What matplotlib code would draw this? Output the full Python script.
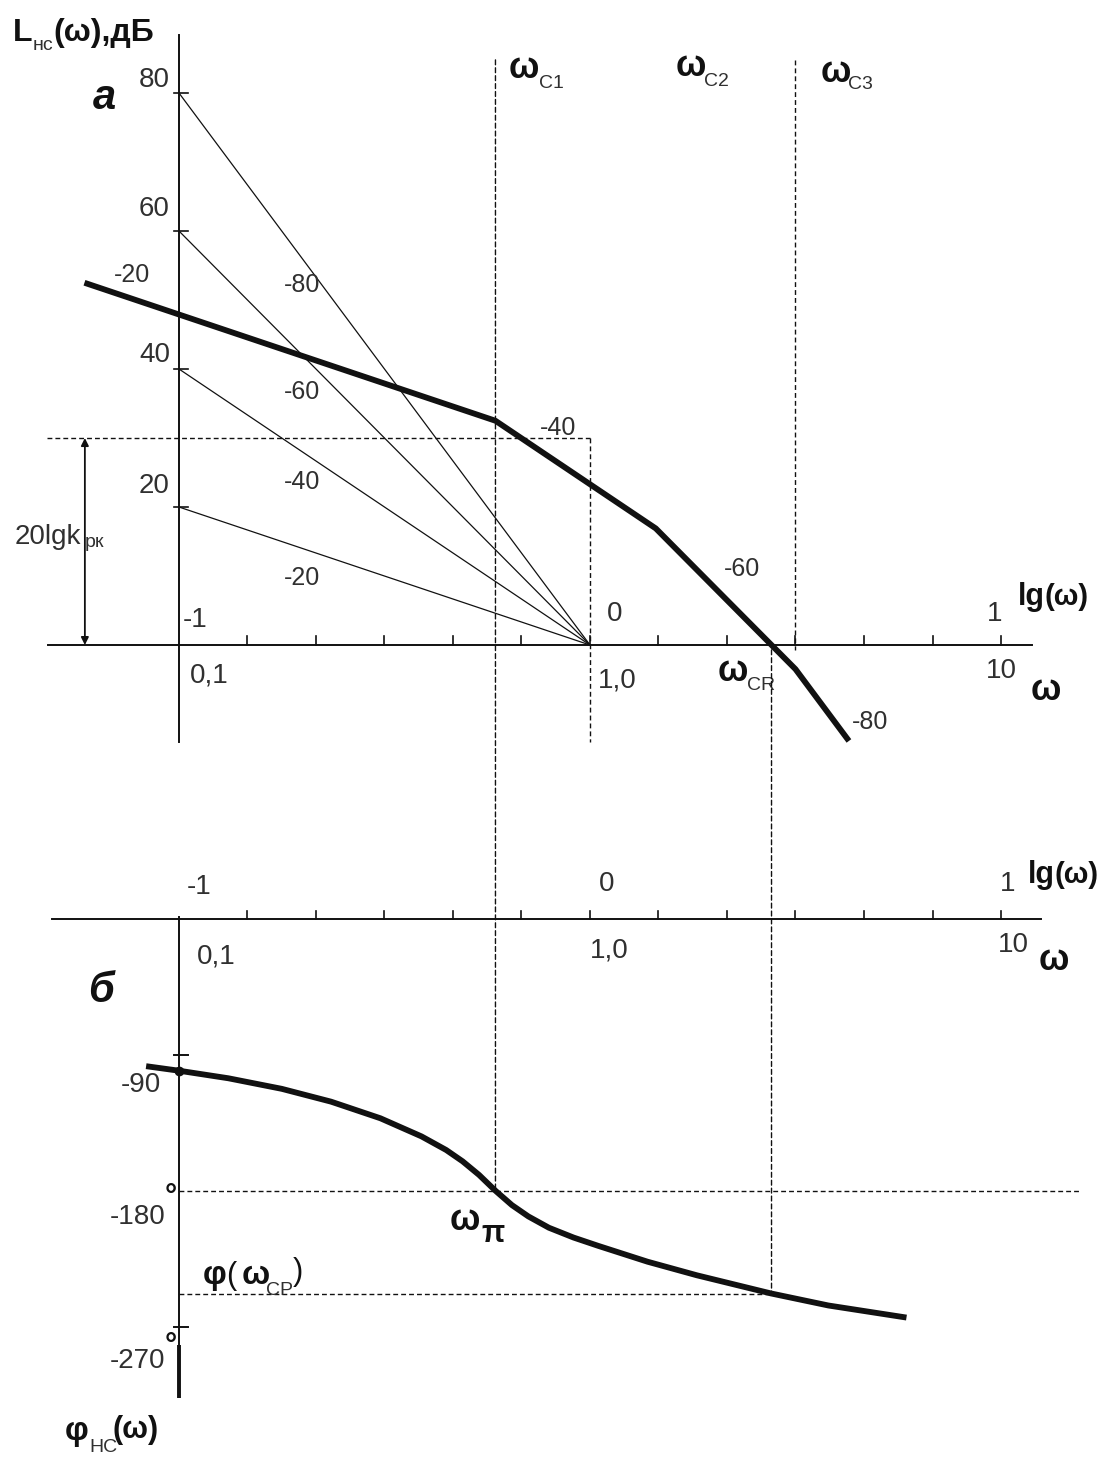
import matplotlib
matplotlib.use("Agg")
import matplotlib.pyplot as plt
from matplotlib.patches import ConnectionPatch
import numpy as np

plt.rcParams['font.family'] = ['Liberation Sans', 'DejaVu Sans']

# ---- data -------------------------------------------------------------
# Asymptotic LAFC of the uncorrected system: corner points (lg ω, dB)
lafc_lg = [-1.23, -0.23, 0.16, 0.50, 0.63]
lafc_db = [52.5, 32.5, 16.9, -3.5, -13.9]
lafc_slope_labels = ["-20", "-40", "-60", "-80"]

# Reference asymptotes that all pass through (lg ω = 0, 0 dB)
ref_start_db = [80, 60, 40, 20]
ref_slope_labels = ["-80", "-60", "-40", "-20"]

# Phase response of the uncorrected system
phase_lg = [-1.08, -1.00, -0.88, -0.75, -0.63, -0.51, -0.41, -0.35, -0.31,
            -0.27, -0.23, -0.19, -0.15, -0.10, -0.04, 0.02, 0.14, 0.26,
            0.44, 0.58, 0.77]
phase_deg = [-97.5, -100.5, -105.5, -112.5, -121, -132, -144, -153, -160.5,
             -169.5, -180, -189.5, -197, -204.5, -211, -216.5, -227, -236,
             -248, -256, -264]

# Gain of the corrective element, dB
k_rk_db = 30

db_ticks = [20, 40, 60, 80]
deg_ticks = [-90, -180, -270]
lg_major_labels = ["-1", "0", "1"]
w_major_labels = ["0,1", "1,0", "10"]

# derived characteristic frequencies
lg_c1, lg_c2, lg_c3 = lafc_lg[1], lafc_lg[2], lafc_lg[3]
lg_cp = float(np.interp(0.0, lafc_db[::-1], lafc_lg[::-1]))
phi_cp = float(np.interp(lg_cp, phase_lg, phase_deg))

# ---- figure -----------------------------------------------------------
W, H = 1113, 1461
fig = plt.figure(figsize=(W / 100, H / 100), dpi=100)
fig.patch.set_facecolor('white')

XLIM = (-1.4355, 1.2725)
ax_t = fig.add_axes([0, 1 - 800 / H, 1, 800 / H])
ax_t.set_xlim(*XLIM)
ax_t.set_ylim(-22.46, 93.48)
ax_b = fig.add_axes([0, 0, 1, 661 / H])
ax_b.set_xlim(*XLIM)
ax_b.set_ylim(-359.0, 78.8)
for ax in (ax_t, ax_b):
    ax.axis('off')

INK = '#111111'
TXT = '#303030'
DASH = (0, (3.5, 2.2))
NUM = 20
SLOPE = 18
BIG = 26
SUB = 14


def t(ax, x, y, s, size=NUM, ha='left', va='center', bold=False,
      italic=False, color=TXT):
    ax.text(x, y, s, fontsize=size, ha=ha, va=va, color=color,
            fontweight='bold' if bold else 'normal',
            fontstyle='italic' if italic else 'normal')


# ---- upper panel: LAFC ------------------------------------------------
# axes
ax_t.plot([-1.319, 1.075], [0, 0], color=INK, lw=1.4)
ax_t.plot([-1, -1], [-14.1, 88.4], color=INK, lw=1.4)
for v in db_ticks:
    ax_t.plot([-1.012, -0.978], [v, v], color=INK, lw=1.2)
for v in np.arange(-5, 7) / 6:
    ax_t.plot([v, v], [0, 1.3], color=INK, lw=1.2)

# reference asymptotes
for v in ref_start_db:
    ax_t.plot([-1, 0], [v, 0], color=INK, lw=0.9)

# LAFC
ax_t.plot(lafc_lg, lafc_db, color=INK, lw=4.2, solid_capstyle='butt',
          solid_joinstyle='round')

# guide lines
ax_t.plot([-1.321, 0], [k_rk_db, k_rk_db], color=INK, lw=1.0, ls=DASH)
ax_t.plot([0, 0], [k_rk_db, -14.1], color=INK, lw=1.0, ls=DASH)
ax_t.plot([lg_c3, lg_c3], [84.8, -0.7], color=INK, lw=1.0, ls=DASH)
ax_t.annotate('', xy=(-1.229, 0), xytext=(-1.229, k_rk_db),
              arrowprops=dict(arrowstyle='<|-|>', lw=1.3, color=INK,
                              mutation_scale=11, shrinkA=0, shrinkB=0))

# lines running into the phase panel
fig.add_artist(ConnectionPatch(xyA=(lg_c1, 84.8), coordsA=ax_t.transData,
                               xyB=(lg_c1, -180), coordsB=ax_b.transData,
                               color=INK, lw=1.0, ls=DASH))
fig.add_artist(ConnectionPatch(xyA=(lg_cp, -0.7), coordsA=ax_t.transData,
                               xyB=(lg_cp, phi_cp), coordsB=ax_b.transData,
                               color=INK, lw=1.0, ls=DASH))

# texts
t(ax_t, -1.404, 88.7, "L", size=23, bold=True, color=INK)
t(ax_t, -1.355, 86.9, "нс", size=SUB)
t(ax_t, -1.306, 88.7, "(ω),дБ", size=23, bold=True, color=INK)
t(ax_t, -1.182, 79.3, "а", size=30, bold=True, italic=True, ha='center',
  color=INK)
for v, yy in zip(db_ticks, [23.0, 42.0, 63.2, 81.9]):
    t(ax_t, -1.022, yy, str(v), ha='right')

t(ax_t, -1.114, 53.6, lafc_slope_labels[0], size=SLOPE, ha='center')
t(ax_t, -0.078, 31.4, lafc_slope_labels[1], size=SLOPE, ha='center')
t(ax_t, 0.370, 11.0, lafc_slope_labels[2], size=SLOPE, ha='center')
t(ax_t, 0.681, -11.2, lafc_slope_labels[3], size=SLOPE, ha='center')
for s, yy in zip(ref_slope_labels, [52.2, 36.7, 23.6, 9.7]):
    t(ax_t, -0.70, yy, s, size=SLOPE, ha='center')

t(ax_t, -0.990, 3.6, lg_major_labels[0])
t(ax_t, 0.061, 4.5, lg_major_labels[1], ha='center')
t(ax_t, 0.985, 4.5, lg_major_labels[2], ha='center')
t(ax_t, 1.041, 7.0, "lg", size=22, bold=True, color=INK)
t(ax_t, 1.106, 7.0, "(ω)", size=21, bold=True, color=INK)
t(ax_t, -0.973, -4.4, w_major_labels[0])
t(ax_t, 0.019, -5.1, w_major_labels[1])
t(ax_t, 0.963, -3.8, w_major_labels[2])
t(ax_t, 1.071, -6.6, "ω", size=BIG, bold=True, color=INK)

t(ax_t, -0.197, 83.5, "ω", size=BIG, bold=True, color=INK)
t(ax_t, -0.124, 81.4, "C1", size=SUB)
t(ax_t, 0.209, 83.8, "ω", size=BIG, bold=True, color=INK)
t(ax_t, 0.277, 81.6, "C2", size=SUB)
t(ax_t, 0.560, 83.0, "ω", size=BIG, bold=True, color=INK)
t(ax_t, 0.628, 81.2, "C3", size=SUB)
t(ax_t, 0.311, -3.8, "ω", size=BIG, bold=True, color=INK)
t(ax_t, 0.382, -5.9, "CR", size=SUB)

t(ax_t, -1.399, 15.7, "20lgk", size=NUM)
t(ax_t, -1.229, 14.9, "рк", size=SUB)

# ---- lower panel: phase -----------------------------------------------
ax_b.plot([-1.309, 1.097], [0, 0], color=INK, lw=1.4)
ax_b.plot([-1, -1], [1, -282], color=INK, lw=1.4)
ax_b.plot([-1, -1], [-282, -317], color=INK, lw=2.8, solid_capstyle='butt')
for v in np.arange(-5, 7) / 6:
    ax_b.plot([v, v], [0, 5.3], color=INK, lw=1.2)
for v in deg_ticks:
    if v != -180:
        ax_b.plot([-1.012, -0.978], [v, v], color=INK, lw=1.4)

ax_b.plot([-1, 1.192], [-180, -180], color=INK, lw=1.0, ls=DASH)
ax_b.plot([-1, lg_cp], [phi_cp, phi_cp], color=INK, lw=1.0, ls=DASH)

ax_b.plot(phase_lg, phase_deg, color=INK, lw=4.2, solid_capstyle='butt',
          solid_joinstyle='round')
ax_b.plot(phase_lg[1], phase_deg[1], 'o', color=INK, ms=6)

t(ax_b, -0.981, 21.2, lg_major_labels[0])
t(ax_b, 0.041, 23.2, lg_major_labels[1], ha='center')
t(ax_b, 1.015, 23.0, lg_major_labels[2], ha='center')
t(ax_b, 1.066, 29.1, "lg", size=22, bold=True, color=INK)
t(ax_b, 1.131, 29.1, "(ω)", size=21, bold=True, color=INK)
t(ax_b, -0.956, -25.0, w_major_labels[0])
t(ax_b, 0.0, -21.0, w_major_labels[1])
t(ax_b, 0.993, -17.2, w_major_labels[2])
t(ax_b, 1.092, -27.2, "ω", size=BIG, bold=True, color=INK)
t(ax_b, -1.190, -47.7, "б", size=30, bold=True, italic=True, ha='center',
  color=INK)

t(ax_b, -1.044, -110.0, str(deg_ticks[0]), ha='right')
t(ax_b, -1.034, -197.4, str(deg_ticks[1]), ha='right')
t(ax_b, -1.034, -292.7, str(deg_ticks[2]), ha='right')
t(ax_b, -1.036, -184.0, "°", size=22, bold=True, color=INK)
t(ax_b, -1.034, -283.0, "°", size=22, bold=True, color=INK)

t(ax_b, -0.942, -236.4, "φ", size=24, bold=True, color=INK)
t(ax_b, -0.885, -236.4, "(", size=22, color=INK)
t(ax_b, -0.848, -236.4, "ω", size=24, bold=True, color=INK)
t(ax_b, -0.788, -246.4, "CP", size=SUB)
t(ax_b, -0.723, -234.0, ")", size=22, color=INK)

t(ax_b, -0.341, -200.0, "ω", size=BIG, bold=True, color=INK)
t(ax_b, -0.265, -208.6, "π", size=22, bold=True, color=INK)

t(ax_b, -1.277, -339.7, "φ", size=24, bold=True, color=INK)
t(ax_b, -1.218, -350.3, "НС", size=SUB)
t(ax_b, -1.162, -338.4, "(ω)", size=22, bold=True, color=INK)

fig.savefig("out.png", dpi=100, facecolor='white')
